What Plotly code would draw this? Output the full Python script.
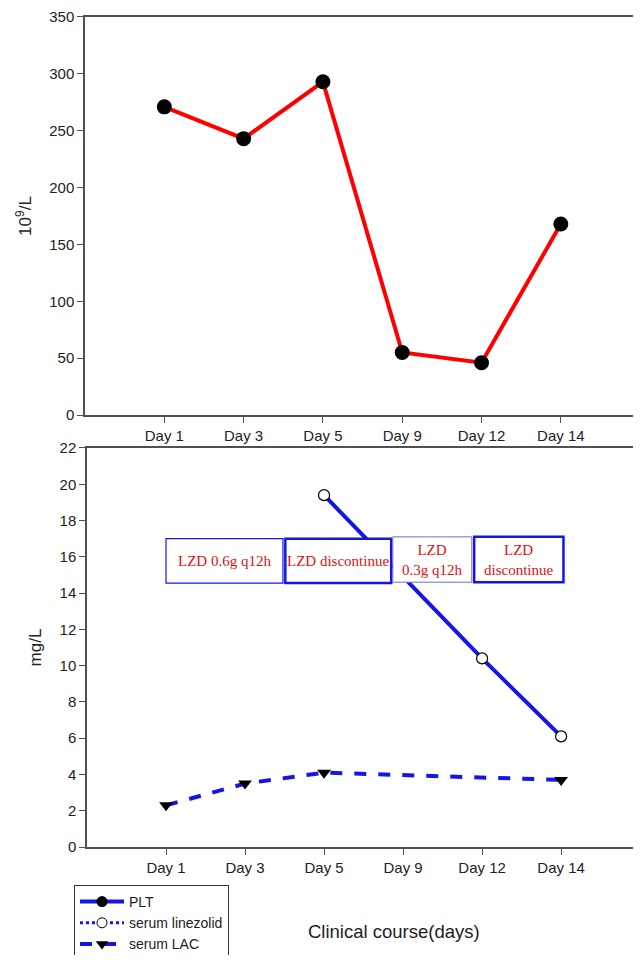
import plotly.graph_objects as go

days = ["Day 1", "Day 3", "Day 5", "Day 9", "Day 12", "Day 14"]
plt_values = [271, 243, 293, 55, 46, 168]
linezolid_values = [None, None, 19.4, None, 10.4, 6.1]
lac_values = [2.3, 3.5, 4.1, None, None, 3.7]
top_ticks = [0, 50, 100, 150, 200, 250, 300, 350]
bottom_ticks = [0, 2, 4, 6, 8, 10, 12, 14, 16, 18, 20, 22]
box_labels = ["LZD 0.6g q12h", "LZD discontinue", "LZD<br>0.3g q12h", "LZD<br>discontinue"]
legend_names = ["PLT", "serum linezolid", "serum LAC"]

pos = list(range(1, len(days) + 1))
BLUE = "#1515e6"
AX = "#505050"
FONT = "Liberation Sans, Arial, sans-serif"

fig = go.Figure()
fig.add_trace(go.Scatter(x=pos, y=plt_values, mode="lines+markers",
                         line=dict(color="#ff0000", width=4),
                         marker=dict(color="black", size=15),
                         xaxis="x", yaxis="y", showlegend=False))
fig.add_trace(go.Scatter(x=pos, y=linezolid_values, mode="lines+markers", connectgaps=True,
                         line=dict(color=BLUE, width=4),
                         marker=dict(color="white", size=11, line=dict(color="black", width=1.2)),
                         xaxis="x2", yaxis="y2", showlegend=False))
fig.add_trace(go.Scatter(x=pos, y=lac_values, mode="lines+markers", connectgaps=True,
                         line=dict(color=BLUE, width=4, dash="dash"),
                         marker=dict(color="black", size=12, symbol="triangle-down"),
                         xaxis="x2", yaxis="y2", showlegend=False))

# legend proxies (legend styles differ from plotted styles in the original)
fig.add_trace(go.Scatter(x=[None], y=[None], mode="lines+markers", name=legend_names[0],
                         line=dict(color=BLUE, width=4),
                         marker=dict(color="black", size=11), xaxis="x2", yaxis="y2"))
fig.add_trace(go.Scatter(x=[None], y=[None], mode="lines+markers", name=legend_names[1],
                         line=dict(color=BLUE, width=3, dash="dot"),
                         marker=dict(color="white", size=10, line=dict(color="black", width=1)),
                         xaxis="x2", yaxis="y2"))
fig.add_trace(go.Scatter(x=[None], y=[None], mode="lines+markers", name=legend_names[2],
                         line=dict(color=BLUE, width=4, dash="dash"),
                         marker=dict(color="black", size=11, symbol="triangle-down"),
                         xaxis="x2", yaxis="y2"))

axis_common = dict(showgrid=False, zeroline=False, showline=True, linecolor=AX, linewidth=1.5,
                   mirror=True, ticks="outside", tickcolor=AX, ticklen=6, tickwidth=1,
                   automargin=False,
                   tickfont=dict(family=FONT, size=15, color="#222"))

XR = [0, 6.91]

fig.update_layout(
    width=625, height=947,
    margin=dict(l=0, r=0, t=0, b=0, autoexpand=False),
    paper_bgcolor="white", plot_bgcolor="white",
    xaxis=dict(domain=[0.1232, 1.0], anchor="y", range=XR, tickvals=pos, ticktext=days,
               **axis_common),
    yaxis=dict(domain=[0.5702, 0.9905], anchor="x", range=[0, 350], tickvals=top_ticks,
               title=dict(text="10<sup>9</sup>/L", font=dict(family=FONT, size=17, color="#222"),
                          standoff=13),
               **axis_common),
    xaxis2=dict(domain=[0.1264, 1.0], anchor="y2", range=XR, tickvals=pos, ticktext=days,
                **axis_common),
    yaxis2=dict(domain=[0.1140, 0.5354], anchor="x2", range=[0, 22], tickvals=bottom_ticks,
                title=dict(text="mg/L", font=dict(family=FONT, size=17, color="#222"),
                           standoff=14),
                **axis_common),
    legend=dict(x=0.1056, y=0.0739, xanchor="left", yanchor="top",
                bordercolor="#333", borderwidth=1, bgcolor="white",
                font=dict(family=FONT, size=14, color="#222"),
                tracegroupgap=0, itemwidth=44),
    showlegend=True,
)

boxes = [
    (1.0, 2.48, 14.55, 17.0, BLUE, 1.2),
    (2.51, 3.85, 14.55, 17.0, BLUE, 2.5),
    (3.87, 4.87, 14.6, 17.1, "#7070c0", 1.0),
    (4.9, 6.03, 14.6, 17.1, BLUE, 2.5),
]
for (x0, x1, y0, y1, col, w), label in zip(boxes, box_labels):
    fig.add_shape(type="rect", xref="x2", yref="y2", x0=x0, x1=x1, y0=y0, y1=y1,
                  line=dict(color=col, width=w), fillcolor="white", layer="above")
    fig.add_annotation(xref="x2", yref="y2", x=(x0 + x1) / 2, y=(y0 + y1) / 2, text=label,
                       showarrow=False, font=dict(family="Liberation Serif, Times New Roman, serif",
                                                  size=15, color="#e01010"))

fig.add_annotation(xref="paper", yref="paper", x=0.6176, y=0.0243, text="Clinical course(days)",
                   showarrow=False, xanchor="center", yanchor="middle",
                   font=dict(family=FONT, size=18.5, color="#222"))

fig.write_html("out.html")
